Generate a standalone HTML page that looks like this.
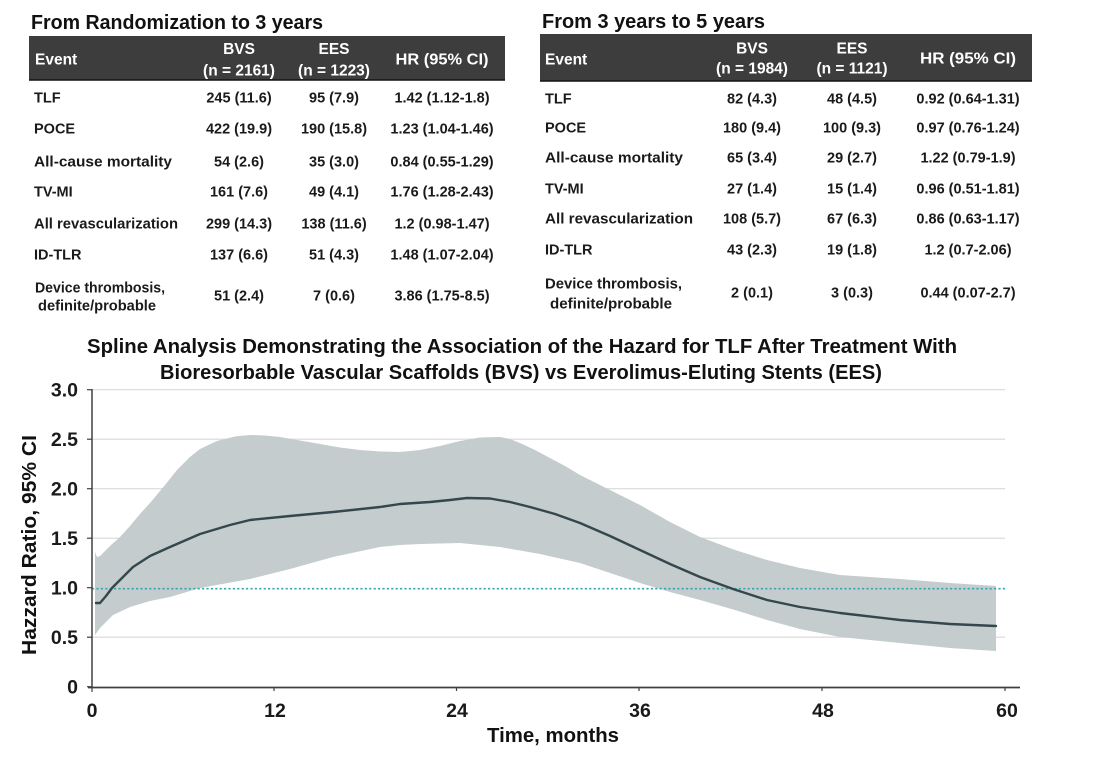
<!DOCTYPE html>
<html><head><meta charset="utf-8"><style>
html,body{margin:0;padding:0;background:#fff;}
svg{display:block;}
text{font-family:"Liberation Sans",Arial,sans-serif;}
.t{font-size:20px;font-weight:bold;fill:#111;}
.h{font-size:15.5px;font-weight:bold;fill:#fff;}
.r{font-size:14.5px;font-weight:bold;fill:#1a1a1a;}
.ax{font-size:19.5px;font-weight:bold;fill:#1a1a1a;}
</style></head><body>
<svg width="1098" height="762" viewBox="0 0 1098 762" xmlns="http://www.w3.org/2000/svg">
<rect width="1098" height="762" fill="#fff"/>
<!-- LEFT TABLE -->
<text class="t" x="31" y="29" textLength="292" lengthAdjust="spacingAndGlyphs">From Randomization to 3 years</text>
<rect x="29" y="36" width="476" height="44" fill="#3d3d3d"/>
<rect x="29" y="79.5" width="476" height="1.2" fill="#000"/>
<text class="h" x="35" y="64.5">Event</text>
<text class="h" x="239" y="54" text-anchor="middle">BVS</text>
<text class="h" x="239" y="75.5" text-anchor="middle">(n = 2161)</text>
<text class="h" x="334" y="54" text-anchor="middle">EES</text>
<text class="h" x="334" y="75.5" text-anchor="middle">(n = 1223)</text>
<text class="h" x="442" y="64.5" text-anchor="middle" textLength="93" lengthAdjust="spacingAndGlyphs">HR (95% CI)</text>
<g class="r">
<text class="r" x="34" y="102.5">TLF</text>
<text class="r" x="34" y="133.5">POCE</text>
<text class="r" x="34" y="166.5" textLength="138" lengthAdjust="spacingAndGlyphs">All-cause mortality</text>
<text class="r" x="34" y="196.5">TV-MI</text>
<text class="r" x="34" y="228.5" textLength="144" lengthAdjust="spacingAndGlyphs">All revascularization</text>
<text class="r" x="34" y="259.5">ID-TLR</text>
<text class="r" x="35" y="292.5" textLength="130" lengthAdjust="spacingAndGlyphs">Device thrombosis,</text>
<text class="r" x="38" y="310.5" textLength="118" lengthAdjust="spacingAndGlyphs">definite/probable</text>
</g>
<g text-anchor="middle">
<text class="r" x="239" y="102.5">245 (11.6)</text><text class="r" x="334" y="102.5">95 (7.9)</text><text class="r" x="442" y="102.5">1.42 (1.12-1.8)</text>
<text class="r" x="239" y="133.5">422 (19.9)</text><text class="r" x="334" y="133.5">190 (15.8)</text><text class="r" x="442" y="133.5">1.23 (1.04-1.46)</text>
<text class="r" x="239" y="166.5">54 (2.6)</text><text class="r" x="334" y="166.5">35 (3.0)</text><text class="r" x="442" y="166.5">0.84 (0.55-1.29)</text>
<text class="r" x="239" y="196.5">161 (7.6)</text><text class="r" x="334" y="196.5">49 (4.1)</text><text class="r" x="442" y="196.5">1.76 (1.28-2.43)</text>
<text class="r" x="239" y="228.5">299 (14.3)</text><text class="r" x="334" y="228.5">138 (11.6)</text><text class="r" x="442" y="228.5">1.2 (0.98-1.47)</text>
<text class="r" x="239" y="259.5">137 (6.6)</text><text class="r" x="334" y="259.5">51 (4.3)</text><text class="r" x="442" y="259.5">1.48 (1.07-2.04)</text>
<text class="r" x="239" y="300.5">51 (2.4)</text><text class="r" x="334" y="300.5">7 (0.6)</text><text class="r" x="442" y="300.5">3.86 (1.75-8.5)</text>
</g>
<!-- RIGHT TABLE -->
<text class="t" x="542" y="28" textLength="223" lengthAdjust="spacingAndGlyphs">From 3 years to 5 years</text>
<rect x="540" y="34" width="492" height="47" fill="#3d3d3d"/>
<rect x="540" y="80.5" width="492" height="1.2" fill="#000"/>
<text class="h" x="545" y="64.5">Event</text>
<text class="h" x="752" y="53.5" text-anchor="middle">BVS</text>
<text class="h" x="752" y="73.5" text-anchor="middle">(n = 1984)</text>
<text class="h" x="852" y="53.5" text-anchor="middle">EES</text>
<text class="h" x="852" y="73.5" text-anchor="middle">(n = 1121)</text>
<text class="h" x="968" y="63.5" text-anchor="middle" textLength="96" lengthAdjust="spacingAndGlyphs">HR (95% CI)</text>
<text class="r" x="545" y="103.5">TLF</text>
<text class="r" x="545" y="132.5">POCE</text>
<text class="r" x="545" y="162.5" textLength="138" lengthAdjust="spacingAndGlyphs">All-cause mortality</text>
<text class="r" x="545" y="193.5">TV-MI</text>
<text class="r" x="545" y="223.5" textLength="148" lengthAdjust="spacingAndGlyphs">All revascularization</text>
<text class="r" x="545" y="254.5">ID-TLR</text>
<text class="r" x="545" y="288.5" textLength="137" lengthAdjust="spacingAndGlyphs">Device thrombosis,</text>
<text class="r" x="550" y="308.5" textLength="122" lengthAdjust="spacingAndGlyphs">definite/probable</text>
<g text-anchor="middle">
<text class="r" x="752" y="103.5">82 (4.3)</text><text class="r" x="852" y="103.5">48 (4.5)</text><text class="r" x="968" y="103.5">0.92 (0.64-1.31)</text>
<text class="r" x="752" y="132.5">180 (9.4)</text><text class="r" x="852" y="132.5">100 (9.3)</text><text class="r" x="968" y="132.5">0.97 (0.76-1.24)</text>
<text class="r" x="752" y="162.5">65 (3.4)</text><text class="r" x="852" y="162.5">29 (2.7)</text><text class="r" x="968" y="162.5">1.22 (0.79-1.9)</text>
<text class="r" x="752" y="193.5">27 (1.4)</text><text class="r" x="852" y="193.5">15 (1.4)</text><text class="r" x="968" y="193.5">0.96 (0.51-1.81)</text>
<text class="r" x="752" y="223.5">108 (5.7)</text><text class="r" x="852" y="223.5">67 (6.3)</text><text class="r" x="968" y="223.5">0.86 (0.63-1.17)</text>
<text class="r" x="752" y="254.5">43 (2.3)</text><text class="r" x="852" y="254.5">19 (1.8)</text><text class="r" x="968" y="254.5">1.2 (0.7-2.06)</text>
<text class="r" x="752" y="297.5">2 (0.1)</text><text class="r" x="852" y="297.5">3 (0.3)</text><text class="r" x="968" y="297.5">0.44 (0.07-2.7)</text>
</g>
<!-- CHART TITLE -->
<text class="t" x="522" y="353" text-anchor="middle" textLength="870" lengthAdjust="spacingAndGlyphs">Spline Analysis Demonstrating the Association of the Hazard for TLF After Treatment With</text>
<text class="t" x="521" y="379" text-anchor="middle" textLength="722" lengthAdjust="spacingAndGlyphs">Bioresorbable Vascular Scaffolds (BVS) vs Everolimus-Eluting Stents (EES)</text>
<!-- GRID -->
<g stroke="#d9d9d9" stroke-width="1.2">
<line x1="92" y1="389.7" x2="1005" y2="389.7"/>
<line x1="92" y1="439.2" x2="1005" y2="439.2"/>
<line x1="92" y1="488.7" x2="1005" y2="488.7"/>
<line x1="92" y1="538.2" x2="1005" y2="538.2"/>
<line x1="92" y1="637.2" x2="1005" y2="637.2"/>
</g>
<!-- BAND -->
<path fill="#c4cccd" d="M95,552 L97,557 L100,556 L105,551 L110,546 L120,537 L130,526 L140,514 L150,503 L165,485 L177,470 L190,457 L200,449 L217,441 L235,436.5 L250,435 L265,435.5 L280,437 L300,440.5 L320,444 L340,447.5 L360,450 L380,451.5 L400,452 L420,450 L440,446 L460,441 L480,437.5 L500,437 L510,439 L520,443 L535,450 L550,458 L565,466 L580,475 L610,490 L640,505 L670,522 L700,537 L735,550 L767,560 L800,568 L840,575 L900,579 L950,583 L996,586 L996,651 L950,648 L900,643 L840,637 L800,629 L767,620 L735,610 L700,600 L670,592 L640,583 L610,573 L580,563 L540,554 L500,547 L460,543 L420,544 L400,545 L380,547 L333,557 L290,569 L250,579 L200,588 L170,597 L150,601 L130,607 L113,615 L100,628 L95,635 Z"/>
<!-- REF LINE -->
<line x1="92" y1="588.7" x2="1005" y2="588.7" stroke="#3aa6b2" stroke-width="1.6" stroke-dasharray="2.2,2.2"/>
<!-- HR LINE -->
<polyline fill="none" stroke="#34474c" stroke-width="2.4" stroke-linejoin="round" stroke-linecap="round" points="96,603 100,603 106,596 112,588 122,578 133,567 150,556 170,547 200,534 230,525 250,520 290,516 333,512 380,507 400,504 430,502 450,500 467,498 490,498.5 510,502 530,507 555,514 580,523 610,536 640,550 670,564 700,577 733,589 767,600 800,607 840,613 900,620 950,624 996,626"/>
<!-- AXES -->
<line x1="92" y1="389" x2="92" y2="688" stroke="#404040" stroke-width="1.5"/>
<line x1="88" y1="687.5" x2="1020" y2="687.5" stroke="#404040" stroke-width="1.8"/>
<g stroke="#404040" stroke-width="1.2">
<line x1="87" y1="389.7" x2="92" y2="389.7"/><line x1="87" y1="439.2" x2="92" y2="439.2"/><line x1="87" y1="488.7" x2="92" y2="488.7"/><line x1="87" y1="538.2" x2="92" y2="538.2"/><line x1="87" y1="587.7" x2="92" y2="587.7"/><line x1="87" y1="637.2" x2="92" y2="637.2"/><line x1="87" y1="686.7" x2="92" y2="686.7"/>
<line x1="92" y1="687" x2="92" y2="692"/><line x1="274" y1="687" x2="274" y2="691"/><line x1="456.5" y1="687" x2="456.5" y2="691"/><line x1="639" y1="687" x2="639" y2="691"/><line x1="822" y1="687" x2="822" y2="691"/><line x1="1005" y1="687" x2="1005" y2="691"/>
</g>
<g text-anchor="end">
<text class="ax" x="78" y="396.5">3.0</text>
<text class="ax" x="78" y="446">2.5</text>
<text class="ax" x="78" y="495.5">2.0</text>
<text class="ax" x="78" y="545">1.5</text>
<text class="ax" x="78" y="594.5">1.0</text>
<text class="ax" x="78" y="644">0.5</text>
<text class="ax" x="78" y="693.5">0</text>
</g>
<g text-anchor="middle">
<text class="ax" x="92" y="717">0</text>
<text class="ax" x="275" y="717">12</text>
<text class="ax" x="457" y="717">24</text>
<text class="ax" x="640" y="717">36</text>
<text class="ax" x="823" y="717">48</text>
<text class="ax" x="1007" y="717">60</text>
</g>
<text class="t" x="553" y="742" text-anchor="middle" textLength="132" lengthAdjust="spacingAndGlyphs">Time, months</text>
<text class="t" transform="translate(36,545) rotate(-90)" x="0" y="0" text-anchor="middle" textLength="220" lengthAdjust="spacingAndGlyphs">Hazzard Ratio, 95% CI</text>
</svg>
</body></html>
